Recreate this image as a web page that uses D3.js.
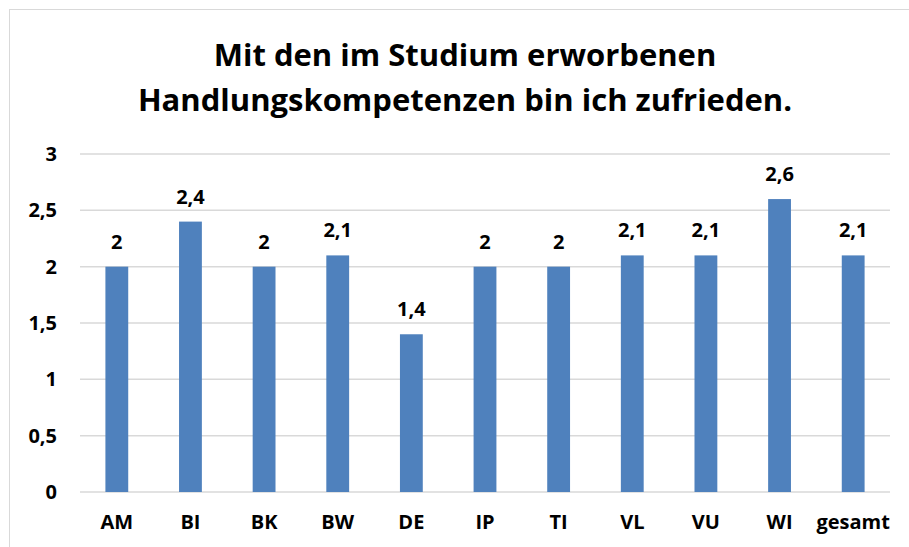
<!DOCTYPE html>
<html><head><meta charset="utf-8">
<script src="https://cdn.jsdelivr.net/npm/d3@7"></script>
<style>body{margin:0;background:#fff;} svg{display:block;}</style>
</head><body>
<svg id="chart" width="909" height="547"></svg>
<script>
const categories = ["AM","BI","BK","BW","DE","IP","TI","VL","VU","WI","gesamt"];
const values = [2,2.4,2,2.1,1.4,2,2,2.1,2.1,2.6,2.1];
const yTicks = [0,0.5,1,1.5,2,2.5,3];
const titleLines = ["Mit den im Studium erworbenen","Handlungskompetenzen bin ich zufrieden."];

const svg = d3.select("#chart");
const font = "'Open Sans', sans-serif";
const fmt = v => String(v).replace(".", ",");

// chart area border
svg.append("rect").attr("x",9.5).attr("y",9.5).attr("width",960).attr("height",600)
  .attr("fill","#fff").attr("stroke","#d9d9d9").attr("stroke-width",1);

const x = d3.scaleBand().domain(categories).range([80,890]).paddingInner(0.69).paddingOuter(0.345);
const y = d3.scaleLinear().domain([0,3]).range([492,154]);

// gridlines
svg.append("g").selectAll("line").data(yTicks).join("line")
  .attr("x1",80).attr("x2",890).attr("y1",d=>y(d)).attr("y2",d=>y(d))
  .attr("stroke","#d9d9d9").attr("stroke-width",1.5);

// y axis labels
const yAxis = svg.append("g").attr("transform","translate(64,0)")
  .call(d3.axisLeft(y).tickValues(yTicks).tickFormat(fmt).tickSize(0).tickPadding(7));
yAxis.select(".domain").remove();
yAxis.selectAll("text").attr("font-family",font).attr("font-weight","bold").attr("font-size","20px").attr("fill","#000");

// x axis labels
const xAxis = svg.append("g").attr("transform","translate(0,492)")
  .call(d3.axisBottom(x).tickSize(0).tickPadding(23));
xAxis.select(".domain").remove();
xAxis.selectAll("text").attr("font-family",font).attr("font-weight","bold").attr("font-size","20px").attr("fill","#000");

// bars
svg.append("g").selectAll("rect").data(values).join("rect")
  .attr("x",(d,i)=>x(categories[i])).attr("width",x.bandwidth())
  .attr("y",d=>y(d)).attr("height",d=>y(0)-y(d)).attr("fill","#4F81BD");

// data labels
svg.append("g").selectAll("text").data(values).join("text")
  .attr("x",(d,i)=>x(categories[i])+x.bandwidth()/2).attr("y",d=>y(d)-18)
  .attr("text-anchor","middle").attr("font-family",font).attr("font-weight","bold")
  .attr("font-size","20px").attr("fill","#000").text(fmt);

// title
svg.append("g").selectAll("text").data(titleLines).join("text")
  .attr("x",465).attr("y",(d,i)=>66+i*45).attr("text-anchor","middle")
  .attr("font-family",font).attr("font-weight","bold").attr("font-size","31px").attr("fill","#000")
  .text(d=>d);
</script>
</body></html>
